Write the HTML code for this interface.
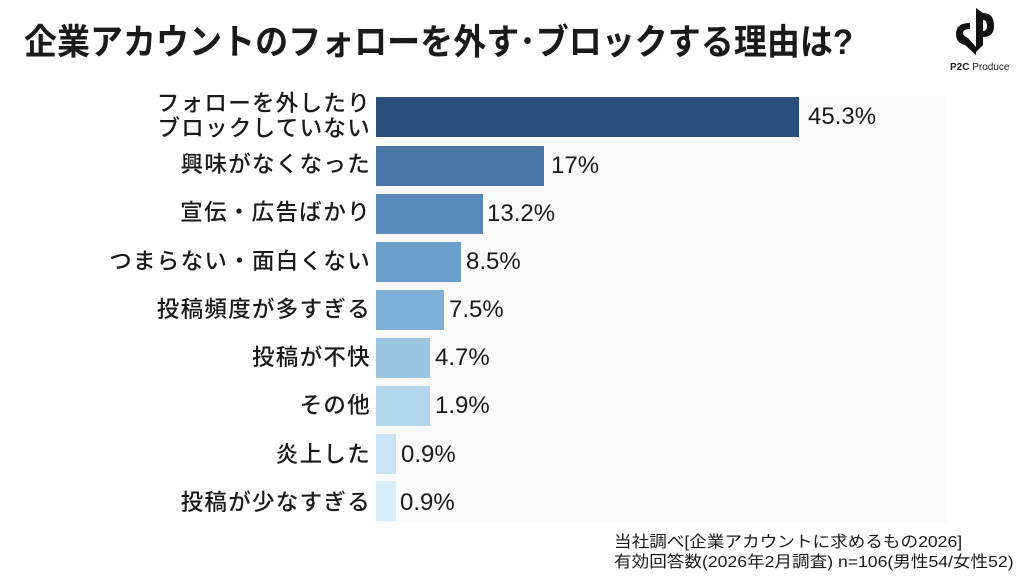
<!DOCTYPE html><html><head><meta charset="utf-8"><style>
body{margin:0;width:1024px;height:576px;background:#fff;font-family:"Liberation Sans","Noto Sans CJK JP",sans-serif;position:relative;overflow:hidden;color:#1a1a1a}
.t{position:absolute;left:24px;top:14px;font-size:35.5px;font-weight:bold;transform:scaleX(0.93);transform-origin:left;white-space:nowrap}
.plot{position:absolute;left:376px;top:96px;width:571px;height:426px;background:#fafafa}
.b{position:absolute;left:376px;height:40px}
.l{position:absolute;right:653px;font-size:22.5px;letter-spacing:1.3px;text-align:right;line-height:25px;font-weight:500;white-space:nowrap}
.v{position:absolute;font-size:24px}
.n{position:absolute;left:614px;top:533px;font-size:16px;line-height:20px;transform:scaleX(1.1);transform-origin:left;white-space:nowrap}
</style></head><body>
<div class="t">企業アカウントのフォローを外す･ブロックする理由は?</div>
<svg style="position:absolute;left:950px;top:6px" width="50" height="56" viewBox="0 0 46 56"><path d="M24 2 L24 46 L31 39 L31 31 Q42 31 42 20 Q42 7 31 7 Z M31 14 Q35 14 35 20 Q35 25 31 25Z" fill="#111"/><path d="M18 17 Q4 17 4 28 Q4 37 13 39 L24 49 L24 41 L16 32 Q11 30 11 27 Q11 23 18 23Z" fill="#111"/></svg>
<div style="position:absolute;left:950px;top:62px;font-size:10px;color:#222"><b>P2C</b> Produce</div>
<div class="plot"></div>
<div class="l" style="top:91px">フォローを外したり<br>ブロックしていない</div>
<div class="b" style="top:97px;width:423px;background:#2b4f7a"></div><div class="v" style="left:808px;top:103px">45.3%</div>
<div class="l" style="top:152px">興味がなくなった</div>
<div class="b" style="top:146px;width:168px;background:#4a76a8"></div><div class="v" style="left:551px;top:152px">17%</div>
<div class="l" style="top:200px">宣伝・広告ばかり</div>
<div class="b" style="top:194px;width:107px;background:#5a8aba"></div><div class="v" style="left:487px;top:200px">13.2%</div>
<div class="l" style="top:249px">つまらない・面白くない</div>
<div class="b" style="top:242px;width:85px;background:#6a9fcb"></div><div class="v" style="left:466px;top:248px">8.5%</div>
<div class="l" style="top:297px">投稿頻度が多すぎる</div>
<div class="b" style="top:290px;width:68px;background:#80b1d6"></div><div class="v" style="left:449px;top:296px">7.5%</div>
<div class="l" style="top:345px">投稿が不快</div>
<div class="b" style="top:338px;width:54px;background:#9bc6e2"></div><div class="v" style="left:435px;top:344px">4.7%</div>
<div class="l" style="top:393px">その他</div>
<div class="b" style="top:386px;width:54px;background:#b3d6ec"></div><div class="v" style="left:435px;top:392px">1.9%</div>
<div class="l" style="top:442px">炎上した</div>
<div class="b" style="top:434px;width:20px;background:#c8e4f5"></div><div class="v" style="left:401px;top:441px">0.9%</div>
<div class="l" style="top:490px">投稿が少なすぎる</div>
<div class="b" style="top:481px;width:20px;background:#daeef9"></div><div class="v" style="left:400px;top:489px">0.9%</div>
<div class="n">当社調べ[企業アカウントに求めるもの2026]<br>有効回答数(2026年2月調査) n=106(男性54/女性52)</div>
</body></html>
